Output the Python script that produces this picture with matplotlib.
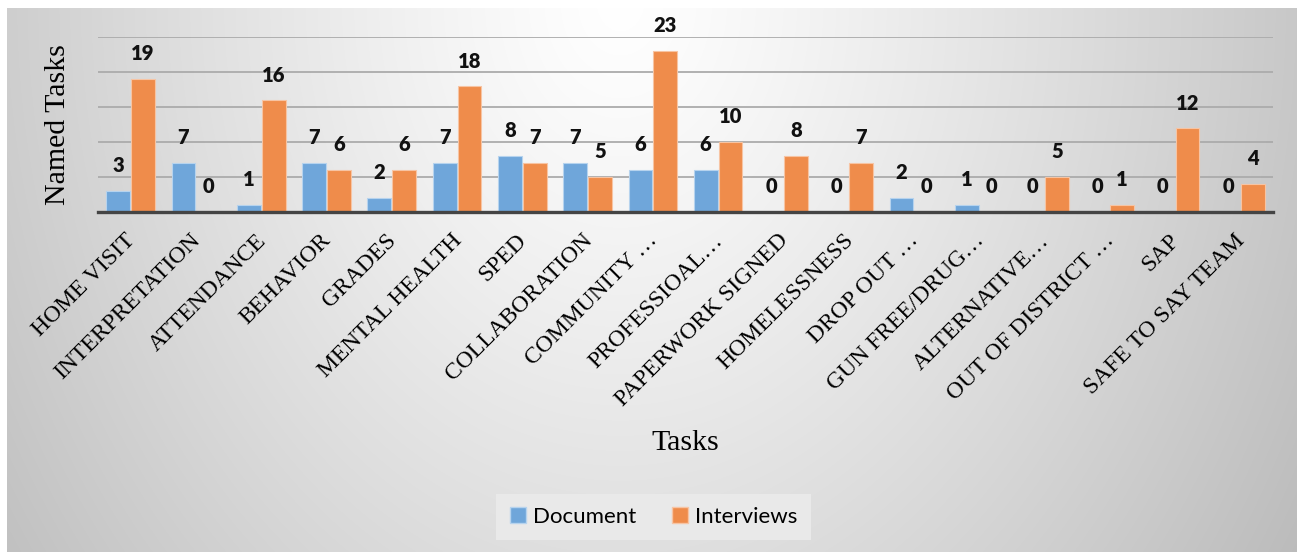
import numpy as np
import matplotlib
matplotlib.use("Agg")
import matplotlib.pyplot as plt
import matplotlib.transforms as mtransforms
from matplotlib.patches import Patch
from matplotlib.font_manager import FontProperties

plt.rcParams["font.family"] = ["Liberation Serif", "DejaVu Serif"]

# Task categories and counts per data source
tasks = ["HOME VISIT", "INTERPRETATION", "ATTENDANCE", "BEHAVIOR", "GRADES",
         "MENTAL HEALTH", "SPED", "COLLABORATION", "COMMUNITY …", "PROFESSIOAL…",
         "PAPERWORK SIGNED", "HOMELESSNESS", "DROP OUT …", "GUN FREE/DRUG…",
         "ALTERNATIVE…", "OUT OF DISTRICT …", "SAP", "SAFE TO SAY TEAM"]
document = [3, 7, 1, 7, 2, 7, 8, 7, 6, 6, 0, 0, 2, 1, 0, 0, 0, 0]
interviews = [19, 0, 16, 6, 6, 18, 7, 5, 23, 10, 8, 7, 0, 0, 5, 1, 12, 4]
series_names = ["Document", "Interviews"]

serif = FontProperties(family=["Liberation Serif", "DejaVu Serif"], size=17)
W, H = 1297, 552
fig = plt.figure(figsize=(W / 100, H / 100), dpi=100)

# Soft radial backdrop of the chart panel
bg = fig.add_axes([0, 0, 1, 1], zorder=-10)
yy, xx = np.mgrid[0:H, 0:W]
d = np.sqrt(((xx - 620) / 700.0) ** 2 + ((yy - 0) / 900.0) ** 2)
shade = np.clip(1.0 - 0.225 * d ** 1.2, 0, 1)
panel = (xx >= 7) & (yy >= 8)
shade = np.where(panel, shade, 1.0)
bg.imshow(np.dstack([shade] * 3), extent=[0, W, H, 0], aspect="auto",
          interpolation="bilinear")
bg.set_xlim(0, W)
bg.set_ylim(H, 0)
bg.axis("off")

# Main plotting area
left, right = 98 / W, 1273 / W
bottom, top = 1 - 212 / H, 1 - 37 / H
ax = fig.add_axes([left, bottom, right - left, top - bottom])
ax.patch.set_alpha(0)

x = np.arange(len(tasks))
bw = 0.365
off = 0.19
blue = "#6fa6da"
orange = "#ef8c4b"
b1 = ax.bar(x - off, document, bw, color=blue, edgecolor="#b6d3ee",
            linewidth=0.8, zorder=3)
b2 = ax.bar(x + off, interviews, bw, color=orange, edgecolor="#f7c4a3",
            linewidth=0.8, zorder=3)

for bars, vals in ((b1, document), (b2, interviews)):
    for rect, v in zip(bars, vals):
        ax.annotate(str(v), (rect.get_x() + rect.get_width() / 2, v),
                    xytext=(0, 18), textcoords="offset points",
                    ha="center", va="center", fontsize=14.5,
                    fontweight="heavy", family="Lato", color="#111111",
                    annotation_clip=False, zorder=5)

ax.set_xlim(-0.5, len(tasks) - 0.5)
ax.set_ylim(0, 25)
ax.set_yticks([5, 10, 15, 20, 25])
ax.yaxis.grid(True, color="#ababab", linewidth=1.3, zorder=1)
ax.tick_params(axis="y", left=False, labelleft=False)
for s in ("top", "right", "left"):
    ax.spines[s].set_visible(False)
ax.spines["bottom"].set_color("#444444")
ax.spines["bottom"].set_linewidth(2.4)
ax.spines["bottom"].set_zorder(4)

ax.set_xticks(x)
ax.set_xticklabels(tasks, rotation=45, ha="right", va="top",
                   rotation_mode="anchor", fontproperties=serif)
ax.tick_params(axis="x", length=0, pad=13)
# nudge the slanted category names so their ends sit under each group
shift = mtransforms.ScaledTranslation(-0.06, 0.0, fig.dpi_scale_trans)
for lbl in ax.get_xticklabels():
    lbl.set_transform(lbl.get_transform() + shift)

fig.text(58 / W, 1 - 125 / H, "Named Tasks", rotation=90, ha="center",
         va="center", fontproperties=FontProperties(
             family=["Liberation Serif", "DejaVu Serif"], size=21.5))
fig.text(685 / W, 1 - 443 / H, "Tasks", ha="center", va="center",
         fontproperties=FontProperties(
             family=["Liberation Serif", "DejaVu Serif"], size=21.5))

handles = [Patch(facecolor=blue, edgecolor="#b6d3ee"),
           Patch(facecolor=orange, edgecolor="#f7c4a3")]
leg = fig.legend(handles, series_names, loc="center",
                 bbox_to_anchor=(653.5 / W, 1 - 517 / H), ncol=2,
                 frameon=True, fancybox=False,
                 prop=FontProperties(family="Lato", size=16),
                 handlelength=0.75, handleheight=0.75, handletextpad=0.3,
                 columnspacing=1.6, borderpad=0.6)
leg.get_frame().set_facecolor("#e9e9e9")
leg.get_frame().set_edgecolor("none")
leg.get_frame().set_alpha(1)

fig.savefig("out.png", dpi=100)
